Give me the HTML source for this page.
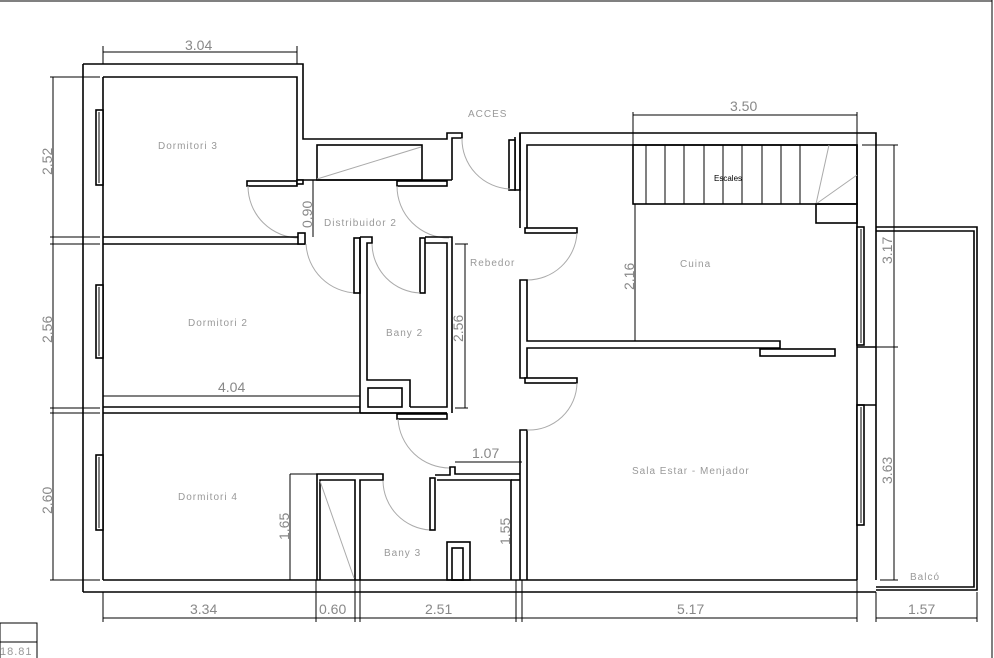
<!DOCTYPE html>
<html><head><meta charset="utf-8"><style>
html,body{margin:0;padding:0;background:#fff;}
svg{display:block}
.w{fill:#fff;stroke:#000;stroke-width:1.6}
.l{stroke:#000;stroke-width:1.6;fill:none}
.d{stroke:#000;stroke-width:1;fill:none}
.a{stroke:#aaa;stroke-width:1;fill:none}
.t{font-family:"Liberation Sans",sans-serif;fill:#999;font-size:10px;letter-spacing:1px}
.dt{font-family:"Liberation Sans",sans-serif;fill:#888;font-size:14px}
</style></head><body>
<svg width="994" height="658" viewBox="0 0 994 658" xmlns="http://www.w3.org/2000/svg">
<!-- frame -->
<line class="d" x1="0" y1="1" x2="992" y2="1"/>
<line class="d" x1="992" y1="0" x2="992" y2="658"/>
<rect class="d" x="0" y="623" width="37" height="36"/>
<line class="d" x1="0" y1="642" x2="37" y2="642"/>
<text class="t" x="0" y="655" style="font-size:11px">18.81</text>

<!-- outer left block -->
<path class="l" d="M83 64 H303 V139 H447 V133 H462 V138 H452 V180"/>
<path class="l" d="M103 77 H297 V180"/>
<line class="l" x1="83" y1="64" x2="83" y2="592"/>
<line class="l" x1="103" y1="77" x2="103" y2="580"/>
<!-- windows left -->
<rect class="w" x="96" y="110" width="7" height="75"/>
<line class="d" x1="99" y1="112" x2="99" y2="183"/>
<rect class="w" x="96" y="285" width="7" height="73"/>
<line class="d" x1="99" y1="287" x2="99" y2="356"/>
<rect class="w" x="96" y="455" width="7" height="75"/>
<line class="d" x1="99" y1="457" x2="99" y2="528"/>
<!-- closet near distributor -->
<rect class="l" x="317" y="145" width="105" height="35"/>
<line class="a" x1="317" y1="179" x2="421" y2="147"/>
<line class="l" x1="297" y1="180" x2="452" y2="180"/>
<!-- dorm3 door -->
<rect class="w" x="247" y="181" width="50" height="5"/>
<rect class="w" x="297" y="180" width="6" height="4"/>
<path class="a" d="M248 186 A52 52 0 0 0 300 238"/>
<!-- dist door to corridor -->
<rect class="w" x="397" y="181" width="50" height="5"/>
<path class="a" d="M397 186 A52 52 0 0 0 449 238"/>
<!-- dorm3/dorm2 wall -->
<line class="l" x1="103" y1="237" x2="305" y2="237"/>
<line class="l" x1="103" y1="244" x2="305" y2="244"/>
<rect class="w" x="298" y="233" width="7" height="11"/>
<path class="a" d="M306 244 A52 52 0 0 0 356 293"/>
<!-- dorm2 right wall / bany2 -->
<rect class="w" x="354" y="238" width="6" height="55"/>
<path class="l" d="M360 237 H372 V243 H367 V380 H410 V407"/>
<line class="l" x1="360" y1="237" x2="360" y2="413"/>
<rect class="w" x="420" y="238" width="5" height="55"/>
<path class="l" d="M425 237 H452 V413"/>
<path class="l" d="M425 243 H447 V407 H410"/>
<path class="a" d="M372 244 A50 50 0 0 0 420 293"/>
<rect class="l" x="368" y="388" width="34" height="19"/>
<!-- dorm2 bottom -->
<line class="l" x1="103" y1="407" x2="360" y2="407"/>
<line class="l" x1="103" y1="413" x2="447" y2="413"/>
<line class="l" x1="360" y1="413" x2="447" y2="413"/>
<rect class="w" x="397" y="414" width="50" height="5"/>
<path class="a" d="M398 419 A52 52 0 0 0 450 468"/>
<!-- dorm4 / closet / bany3 -->
<path class="l" d="M317 580 V474 H383 V480 H360 V580"/>
<path class="l" d="M320 580 V480 H355 V580"/>
<line class="a" x1="320" y1="481" x2="354" y2="578"/>
<path class="a" d="M383 481 A50 50 0 0 0 430 530"/>
<rect class="w" x="430" y="478" width="5" height="52"/>
<path class="l" d="M435 475 H450 V467 H455 V474 H520"/>
<path class="l" d="M437 480 H511 V580"/>
<rect class="l" x="447" y="542" width="23" height="38"/>
<rect class="l" x="452" y="548" width="11" height="32"/>
<!-- middle wall -->
<path class="l" d="M520 580 V430 H527 V580"/>
<line class="l" x1="511" y1="480" x2="520" y2="480"/>
<!-- bottom outer -->
<line class="l" x1="83" y1="592" x2="876" y2="592"/>
<line class="l" x1="103" y1="580" x2="857" y2="580"/>
<!-- right block -->
<path class="l" d="M515 137 V190 H520 V133 H876 V580"/>
<path class="l" d="M527 228 V145 H857 V580"/>
<rect class="w" x="509" y="140" width="6" height="50"/>
<path class="a" d="M462 138 A50 50 0 0 0 510 189"/>
<line class="l" x1="520" y1="133" x2="520" y2="228"/>
<rect class="w" x="525" y="228" width="52" height="5"/>
<path class="a" d="M577 233 A50 50 0 0 1 527 280"/>
<path class="l" d="M520 280 V378 H527 V348 H780 V341 H527 V280 Z"/>
<rect class="w" x="525" y="378" width="52" height="5"/>
<path class="a" d="M577 383 A48 48 0 0 1 527 430"/>
<rect class="w" x="760" y="349" width="75" height="7"/>
<!-- stairs -->
<rect class="l" x="633" y="145" width="224" height="59"/>
<g class="d">
<line x1="646" y1="145" x2="646" y2="204"/><line x1="665" y1="145" x2="665" y2="204"/>
<line x1="684" y1="145" x2="684" y2="204"/><line x1="704" y1="145" x2="704" y2="204"/>
<line x1="723" y1="145" x2="723" y2="204"/><line x1="742" y1="145" x2="742" y2="204"/>
<line x1="762" y1="145" x2="762" y2="204"/><line x1="781" y1="145" x2="781" y2="204"/>
<line x1="800" y1="145" x2="800" y2="204"/>
</g>
<line class="a" x1="816" y1="204" x2="829" y2="145"/>
<line class="a" x1="816" y1="204" x2="857" y2="175"/>
<rect class="l" x="816" y="204" width="41" height="19"/>
<text x="714" y="181" style="font-family:'Liberation Sans',sans-serif;font-size:8px;fill:#000">Escales</text>
<!-- right windows -->
<rect class="w" x="857" y="227" width="7" height="118"/>
<line class="d" x1="861" y1="229" x2="861" y2="343"/>
<rect class="w" x="857" y="405" width="7" height="120"/>
<line class="d" x1="861" y1="407" x2="861" y2="523"/>
<line class="l" x1="857" y1="347" x2="876" y2="347"/>
<line class="l" x1="857" y1="405" x2="876" y2="405"/>
<!-- balcony -->
<path class="l" d="M876 227 H977 V590 H876"/>
<path class="l" d="M876 231 H974 V587 H876"/>
<!-- dimensions -->
<g class="d">
<line x1="103" y1="52" x2="297" y2="52"/><line x1="103" y1="46" x2="103" y2="64"/><line x1="297" y1="46" x2="297" y2="64"/>
<line x1="53" y1="77" x2="53" y2="580"/>
<line x1="50" y1="77" x2="100" y2="77"/><line x1="50" y1="237" x2="100" y2="237"/><line x1="50" y1="244" x2="100" y2="244"/>
<line x1="50" y1="408" x2="100" y2="408"/><line x1="50" y1="413" x2="100" y2="413"/><line x1="50" y1="580" x2="100" y2="580"/>
<line x1="313" y1="180" x2="313" y2="237"/>
<line x1="103" y1="396" x2="360" y2="396"/>
<line x1="465" y1="244" x2="465" y2="408"/><line x1="455" y1="244" x2="468" y2="244"/><line x1="455" y1="408" x2="468" y2="408"/>
<line x1="633" y1="115" x2="857" y2="115"/><line x1="633" y1="112" x2="633" y2="145"/><line x1="857" y1="112" x2="857" y2="145"/>
<line x1="635" y1="204" x2="635" y2="341"/>
<line x1="894" y1="145" x2="894" y2="580"/><line x1="862" y1="145" x2="898" y2="145"/><line x1="876" y1="347" x2="898" y2="347"/>
<line x1="880" y1="580" x2="898" y2="580"/>
<line x1="455" y1="462" x2="522" y2="462"/>
<line x1="290" y1="474" x2="317" y2="474"/><line x1="290" y1="474" x2="290" y2="580"/>
<line x1="103" y1="618" x2="857" y2="618"/><line x1="876" y1="618" x2="977" y2="618"/>
<line x1="103" y1="592" x2="103" y2="622"/><line x1="316" y1="580" x2="316" y2="622"/><line x1="355" y1="580" x2="355" y2="622"/>
<line x1="360" y1="580" x2="360" y2="622"/><line x1="516" y1="580" x2="516" y2="622"/><line x1="522" y1="580" x2="522" y2="622"/>
<line x1="857" y1="580" x2="857" y2="622"/><line x1="876" y1="592" x2="876" y2="622"/><line x1="977" y1="592" x2="977" y2="622"/>
</g>
<g class="dt">
<text x="185" y="50">3.04</text>
<text x="730" y="111">3.50</text>
<text x="218" y="392">4.04</text>
<text x="472" y="458">1.07</text>
<text x="190" y="614">3.34</text>
<text x="319" y="614">0.60</text>
<text x="425" y="614">2.51</text>
<text x="677" y="614">5.17</text>
<text x="908" y="614">1.57</text>
<text transform="translate(52,175) rotate(-90)">2.52</text>
<text transform="translate(52,343) rotate(-90)">2.56</text>
<text transform="translate(52,514) rotate(-90)">2.60</text>
<text transform="translate(312,228) rotate(-90)">0.90</text>
<text transform="translate(463,342) rotate(-90)">2.56</text>
<text transform="translate(634,290) rotate(-90)">2.16</text>
<text transform="translate(892,264) rotate(-90)">3.17</text>
<text transform="translate(892,484) rotate(-90)">3.63</text>
<text transform="translate(289,540) rotate(-90)">1.65</text>
<text transform="translate(510,545) rotate(-90)">1.55</text>
</g>
<g class="t">
<text x="158" y="149">Dormitori 3</text>
<text x="324" y="226">Distribuidor 2</text>
<text x="468" y="117">ACCES</text>
<text x="470" y="266">Rebedor</text>
<text x="188" y="326">Dormitori 2</text>
<text x="386" y="336">Bany 2</text>
<text x="680" y="267">Cuina</text>
<text x="178" y="500">Dormitori 4</text>
<text x="632" y="474">Sala Estar - Menjador</text>
<text x="384" y="556">Bany 3</text>
<text x="910" y="580">Balcó</text>
</g>
</svg>
</body></html>
